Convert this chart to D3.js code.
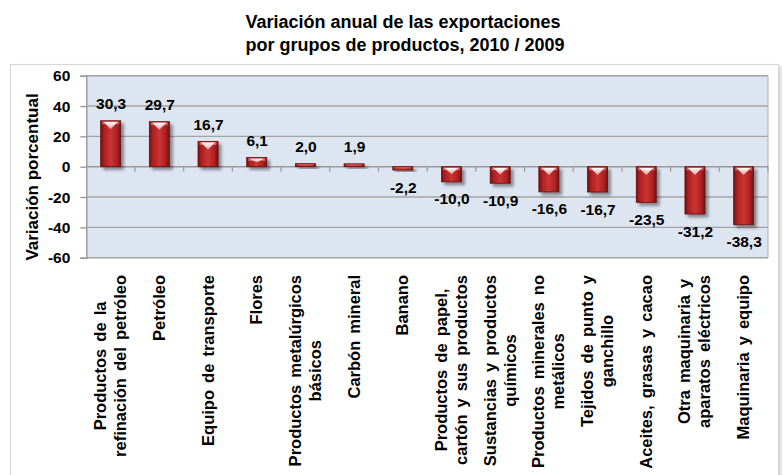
<!DOCTYPE html>
<html>
<head>
<meta charset="utf-8">
<script src="https://cdn.jsdelivr.net/npm/d3@7"></script>
<style>
  body { margin: 0; background: #fff; }
  text { font-family: "Liberation Sans", Arial, sans-serif; font-weight: bold; fill: #000; }
</style>
</head>
<body>
<svg id="chart" width="783" height="475"></svg>
<script>
// ---------- data ----------
const titleLines = ["Variación anual de las exportaciones", "por grupos de productos, 2010 / 2009"];
const yTitle = "Variación porcentual";
const categories = [
  ["Productos de la", "refinación del petróleo"],
  ["Petróleo"],
  ["Equipo de transporte"],
  ["Flores"],
  ["Productos metalúrgicos", "básicos"],
  ["Carbón mineral"],
  ["Banano"],
  ["Productos de papel,", "cartón y sus productos"],
  ["Sustancias y productos", "químicos"],
  ["Productos minerales no", "metálicos"],
  ["Tejidos de punto y", "ganchillo"],
  ["Aceites, grasas y cacao"],
  ["Otra maquinaria y", "aparatos eléctricos"],
  ["Maquinaria y equipo"]
];
const values = [30.3, 29.7, 16.7, 6.1, 2.0, 1.9, -2.2, -10.0, -10.9, -16.6, -16.7, -23.5, -31.2, -38.3];
const yTicks = [-60, -40, -20, 0, 20, 40, 60];

// ---------- setup ----------
const svg = d3.select('#chart');
const loc = d3.formatLocale({ decimal: ",", thousands: ".", grouping: [3], currency: ["", ""], minus: "-" });
const fmtVal = loc.format(".1f");
const fmtTick = loc.format("d");

const plot = { left: 86.3, right: 768, top: 75.7, bottom: 257.7 };
const x = d3.scaleBand().domain(d3.range(values.length)).range([plot.left, plot.right]);
const y = d3.scaleLinear().domain([-60, 60]).range([plot.bottom, plot.top]);
const barW = 20;

const defs = svg.append('defs');
const shadow = defs.append('filter').attr('id', 'sh').attr('x', '-50%').attr('y', '-50%').attr('width', '200%').attr('height', '200%');
shadow.append('feDropShadow').attr('dx', 3).attr('dy', 3).attr('stdDeviation', 1.6)
  .attr('flood-color', '#000').attr('flood-opacity', 0.4);
const frameSh = defs.append('filter').attr('id', 'fsh').attr('x', '-5%').attr('y', '-5%').attr('width', '110%').attr('height', '110%');
frameSh.append('feDropShadow').attr('dx', 2).attr('dy', 2).attr('stdDeviation', 1.5)
  .attr('flood-color', '#000').attr('flood-opacity', 0.18);

const grad = defs.append('linearGradient').attr('id', 'barGrad').attr('x1', 0).attr('x2', 1).attr('y1', 0).attr('y2', 0);
[[0, '#741010'], [0.18, '#ac2222'], [0.5, '#cc3434'], [0.82, '#ac2222'], [1, '#741010']]
  .forEach(([o, c]) => grad.append('stop').attr('offset', o).attr('stop-color', c));
const hiGrad = defs.append('linearGradient').attr('id', 'hiGrad').attr('x1', 0).attr('x2', 0).attr('y1', 0).attr('y2', 1);
hiGrad.append('stop').attr('offset', 0).attr('stop-color', '#ffffff').attr('stop-opacity', 1);
hiGrad.append('stop').attr('offset', 1).attr('stop-color', '#ffd0d0').attr('stop-opacity', 0.7);

// outer frame
svg.append('rect').attr('x', 10.5).attr('y', 64.5).attr('width', 768).attr('height', 430)
  .attr('fill', '#fff').attr('stroke', '#d6d6d6').attr('filter', 'url(#fsh)');

// title
svg.append('text').attr('x', 403).attr('y', 28).attr('text-anchor', 'middle')
  .style('font-size', '18px').text(titleLines[0]);
svg.append('text').attr('x', 405).attr('y', 51).attr('text-anchor', 'middle')
  .style('font-size', '18px').text(titleLines[1]);

// plot background
svg.append('rect').attr('x', plot.left).attr('y', plot.top)
  .attr('width', plot.right - plot.left).attr('height', plot.bottom - plot.top)
  .attr('fill', '#dde5f1');

// gridlines
svg.append('g').selectAll('line').data(yTicks.filter(t => t !== 0)).join('line')
  .attr('x1', plot.left).attr('x2', plot.right)
  .attr('y1', d => y(d)).attr('y2', d => y(d))
  .attr('stroke', '#a3a3a3').attr('stroke-width', 1.4);
svg.append('line').attr('x1', plot.right).attr('x2', plot.right)
  .attr('y1', plot.top).attr('y2', plot.bottom).attr('stroke', '#b8b8b8').attr('stroke-width', 1.2);

// y axis
const yAxis = svg.append('g').attr('transform', `translate(${plot.left},0)`)
  .call(d3.axisLeft(y).tickValues(yTicks).tickSize(6).tickPadding(10).tickFormat(fmtTick));
yAxis.select('.domain').attr('stroke', '#9a9a9a').attr('stroke-width', 1.4);
yAxis.selectAll('.tick line').attr('stroke', '#9a9a9a').attr('stroke-width', 1.4);
yAxis.selectAll('.tick text').style('font-size', '15.5px').attr('font-family', null).attr('fill', '#000');

svg.append('text').attr('transform', 'translate(38,177) rotate(-90)').attr('text-anchor', 'middle')
  .style('font-size', '17px').text(yTitle);

// zero line with category ticks
svg.append('line').attr('x1', plot.left).attr('x2', plot.right)
  .attr('y1', y(0)).attr('y2', y(0)).attr('stroke', '#9a9a9a').attr('stroke-width', 1.4);
svg.append('g').selectAll('line').data(d3.range(1, values.length + 1)).join('line')
  .attr('x1', i => x(i - 1) + x.bandwidth()).attr('x2', i => x(i - 1) + x.bandwidth())
  .attr('y1', y(0)).attr('y2', y(0) + 5)
  .attr('stroke', '#9a9a9a').attr('stroke-width', 1.2);

// bars
const bars = svg.append('g').selectAll('g').data(values).join('g');
bars.each(function (v, i) {
  const g = d3.select(this);
  const cx = x(i) + x.bandwidth() / 2;
  const top = Math.min(y(v), y(0));
  const h = Math.abs(y(v) - y(0));
  g.append('rect').attr('x', cx - barW / 2).attr('y', top).attr('width', barW).attr('height', h)
    .attr('fill', 'url(#barGrad)').attr('stroke', '#640c0c').attr('stroke-width', 0.8)
    .attr('filter', 'url(#sh)');
  // lighter strip at the top
  const sh = Math.min(3, h * 0.35);
  g.append('rect').attr('x', cx - barW / 2 + 1.5).attr('y', top + 0.6).attr('width', barW - 3).attr('height', sh)
    .attr('fill', '#e46a6a').attr('opacity', 0.85);
  // white highlight triangle
  const th = Math.min(7, h * 0.4);
  if (h > 6) {
    g.append('path')
      .attr('d', `M${cx - 7},${top + 1.2}L${cx + 7},${top + 1.2}L${cx},${top + 1.2 + th}Z`)
      .attr('fill', 'url(#hiGrad)');
  }
  // value label
  g.append('text').attr('x', cx + 0.5)
    .attr('y', v >= 0 ? y(v) - 11.5 : y(v) + 22.5)
    .attr('text-anchor', 'middle').style('font-size', '15.5px')
    .text(fmtVal(v));
});

// category labels (rotated, block anchored at top, lines centred)
categories.forEach((lines, i) => {
  const cx = x(i) + x.bandwidth() / 2;
  const g = svg.append('g').attr('transform', `translate(${cx},275) rotate(-90)`);
  const texts = lines.map((ln, k) => g.append('text')
    .attr('y', (k - (lines.length - 1) / 2) * 20 + 5.5)
    .attr('text-anchor', 'middle')
    .style('font-size', '16.5px').style('word-spacing', '2.5px')
    .text(ln));
  const w = d3.max(texts, t => t.node().getComputedTextLength());
  texts.forEach(t => t.attr('x', -w / 2));
});
</script>
</body>
</html>
